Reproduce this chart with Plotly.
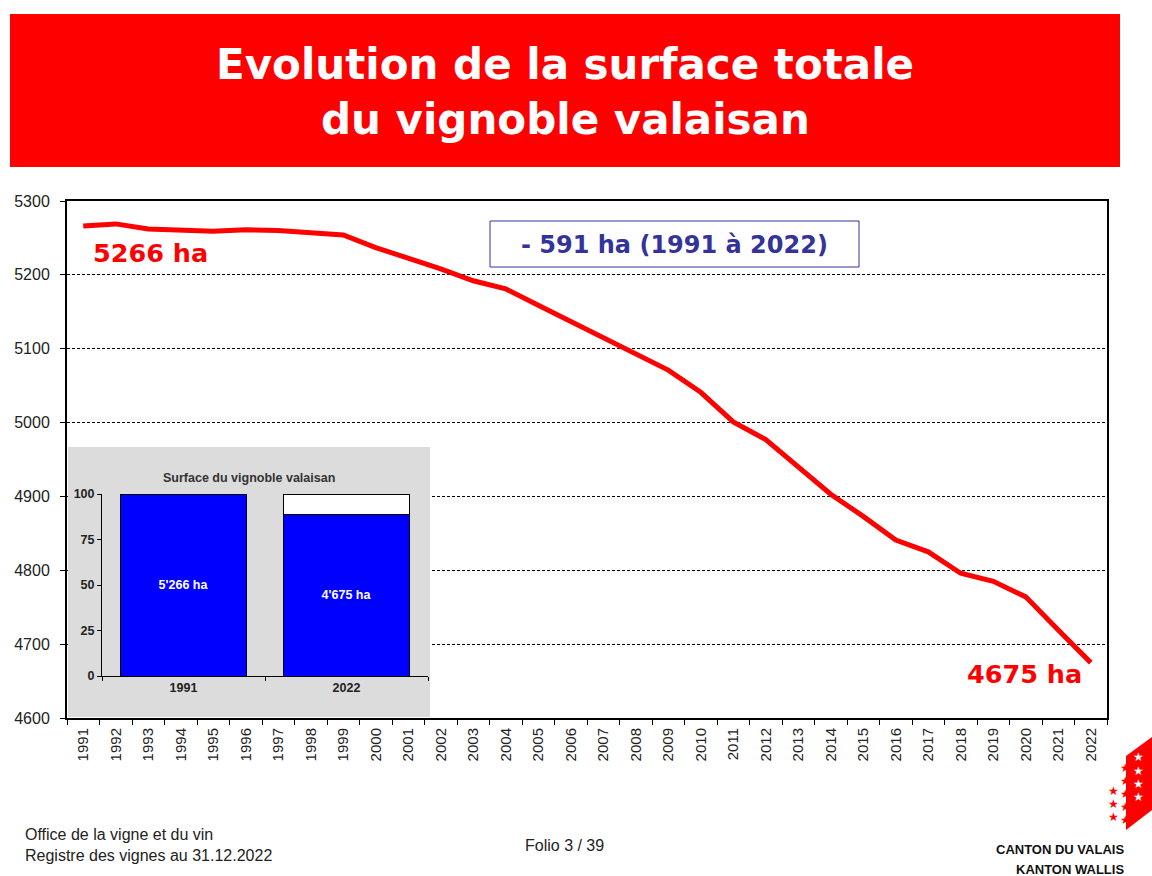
import plotly.graph_objects as go

# ---------------- data ----------------
years = ["1991", "1992", "1993", "1994", "1995", "1996", "1997", "1998", "1999", "2000",
         "2001", "2002", "2003", "2004", "2005", "2006", "2007", "2008", "2009", "2010",
         "2011", "2012", "2013", "2014", "2015", "2016", "2017", "2018", "2019", "2020",
         "2021", "2022"]
surface = [5266, 5269, 5262, 5261, 5259, 5261, 5260, 5257, 5254, 5237,
           5223, 5208, 5192, 5181, 5159, 5137, 5116, 5094, 5071, 5041,
           5001, 4977, 4940, 4903, 4873, 4841, 4825, 4796, 4785, 4764,
           4719, 4675]
y_ticks = [4600, 4700, 4800, 4900, 5000, 5100, 5200, 5300]

inset_years = ["1991", "2022"]
inset_surface = [5266, 4675]
inset_labels = ["5'266 ha", "4'675 ha"]
inset_ticks = [0, 25, 50, 75, 100]

title_lines = ["Evolution de la surface totale", "du vignoble valaisan"]

W, H = 1152, 876
def X(px): return px / W
def Y(py): return 1 - py / H

RED = "#ff0000"
NAVY = "#333399"

fig = go.Figure()

# main line
fig.add_trace(go.Scatter(x=years, y=surface, mode="lines",
                         line=dict(color=RED, width=5), xaxis="x", yaxis="y",
                         showlegend=False, hoverinfo="skip"))

# gray background panel of the inset (own subplot so it covers main gridlines)
fig.add_trace(go.Scatter(x=[0, 1, 1, 0, 0], y=[0, 0, 1, 1, 0], mode="lines",
                         fill="toself", fillcolor="#dcdcdc", line=dict(width=0),
                         xaxis="x2", yaxis="y2", showlegend=False, hoverinfo="skip"))

# inset bars
pct = [v / inset_surface[0] * 100 for v in inset_surface]
rest = [None if p >= 100 else 100 - p for p in pct]
fig.add_trace(go.Bar(x=inset_years, y=pct, marker=dict(color="#0000ff", line=dict(color="black", width=1)),
                     text=inset_labels, textposition="inside", insidetextanchor="middle",
                     textangle=0,
                     textfont=dict(color="white", size=12.5, family="Liberation Sans, Arial", weight="bold"),
                     xaxis="x3", yaxis="y3", showlegend=False, hoverinfo="skip"))
fig.add_trace(go.Bar(x=inset_years, y=rest, marker=dict(color="white", line=dict(color="black", width=1)),
                     xaxis="x3", yaxis="y3", showlegend=False, hoverinfo="skip"))

axis_font = dict(family="Liberation Sans, Arial", size=15, color="#222")
inset_font = dict(family="Liberation Sans, Arial", size=12.5, color="#222", weight="bold")

fig.update_layout(
    width=W, height=H, autosize=False,
    margin=dict(l=0, r=0, t=0, b=0, pad=0, autoexpand=False),
    paper_bgcolor="white", plot_bgcolor="rgba(0,0,0,0)",
    barmode="stack", bargap=0.233,
    xaxis=dict(domain=[X(67), X(1107)], type="category", tickson="boundaries",
               range=[-0.5, len(years) - 0.5],
               ticks="outside", ticklen=5, tickwidth=1, tickcolor="black",
               showline=True, linecolor="black", linewidth=2, mirror=True,
               tickangle=-90, tickfont=axis_font, showgrid=False, anchor="y",
               ticklabelstandoff=2, automargin=False, fixedrange=True),
    yaxis=dict(domain=[Y(718), Y(201)], range=[4600, 5300], tickvals=y_ticks,
               ticks="outside", ticklen=5, tickwidth=1, tickcolor="black",
               showline=True, linecolor="black", linewidth=2, mirror=True,
               tickfont=dict(family="Liberation Sans, Arial", size=16, color="#222"),
               showgrid=True, gridcolor="black", gridwidth=1, griddash="3px,2px",
               ticklabelstandoff=7, automargin=False,
               zeroline=False, anchor="x", fixedrange=True),
    xaxis2=dict(domain=[X(68), X(430)], range=[0, 1], visible=False, anchor="y2",
                automargin=False, fixedrange=True),
    yaxis2=dict(domain=[Y(717), Y(447)], range=[0, 1], visible=False, anchor="x2",
                automargin=False, fixedrange=True),
    xaxis3=dict(domain=[X(102), X(428)], type="category", tickson="boundaries",
                range=[-0.5, len(inset_years) - 0.5],
                ticks="outside", ticklen=4, tickcolor="black", showline=True,
                linecolor="black", linewidth=1, tickfont=inset_font,
                showgrid=False, anchor="y3", automargin=False, fixedrange=True),
    yaxis3=dict(domain=[Y(676), Y(494)], range=[0, 100], tickvals=inset_ticks,
                ticks="outside", ticklen=4, tickcolor="black", showline=True,
                linecolor="black", linewidth=1, tickfont=inset_font,
                showgrid=False, zeroline=False, anchor="x3", automargin=False, fixedrange=True),
)

shapes = [
    # red title band
    dict(type="rect", xref="paper", yref="paper", x0=X(10), x1=X(1120), y0=Y(167), y1=Y(14),
         fillcolor=RED, line=dict(width=0), layer="below"),
    # box around the difference label
    dict(type="rect", xref="paper", yref="paper", x0=X(490), x1=X(859), y0=Y(267), y1=Y(221),
         fillcolor="white", line=dict(color=NAVY, width=1), layer="above"),
    # logo flag
    dict(type="path", xref="paper", yref="paper",
         path=f"M {X(1126)},{Y(756)} L {X(1152)},{Y(737)} L {X(1152)},{Y(810)} L {X(1126)},{Y(830)} Z",
         fillcolor=RED, line=dict(width=0), layer="above"),
]
fig.update_layout(shapes=shapes)

ann = []
title_font = dict(family="DejaVu Sans, Verdana", size=42, color="white", weight="bold")
ann.append(dict(text=title_lines[0], x=X(565), y=Y(64), xref="paper", yref="paper",
                showarrow=False, font=title_font, xanchor="center", yanchor="middle"))
ann.append(dict(text=title_lines[1], x=X(565), y=Y(119), xref="paper", yref="paper",
                showarrow=False, font=title_font, xanchor="center", yanchor="middle"))

big = dict(family="DejaVu Sans, Verdana", size=25.5, color=RED, weight="bold")
ann.append(dict(text=f"{surface[0]} ha", x=X(91), y=Y(253), xref="paper", yref="paper",
                showarrow=False, font=big, xanchor="left", yanchor="middle"))
ann.append(dict(text=f"{surface[-1]} ha", x=X(1084), y=Y(674), xref="paper", yref="paper",
                showarrow=False, font=big, xanchor="right", yanchor="middle"))

diff = surface[0] - surface[-1]
ann.append(dict(text=f"- {diff} ha ({years[0]} à {years[-1]})", x=X(674), y=Y(245),
                xref="paper", yref="paper", showarrow=False,
                font=dict(family="DejaVu Sans, Verdana", size=24, color=NAVY, weight="bold"),
                xanchor="center", yanchor="middle"))

ann.append(dict(text="Surface du vignoble valaisan", x=X(249), y=Y(478), xref="paper", yref="paper",
                showarrow=False, font=dict(family="Liberation Sans, Arial", size=12.5, color="#333", weight="bold"),
                xanchor="center", yanchor="middle"))

foot = dict(family="Liberation Sans, Arial", size=16, color="#222")
ann.append(dict(text="Office de la vigne et du vin<br>Registre des vignes au 31.12.2022",
                x=X(23), y=Y(845), xref="paper", yref="paper", showarrow=False, font=foot,
                xanchor="left", yanchor="middle", align="left"))
ann.append(dict(text="Folio 3 / 39", x=X(564), y=Y(845), xref="paper", yref="paper",
                showarrow=False, font=foot, xanchor="center", yanchor="middle"))

logo_font = dict(family="Liberation Sans Narrow, Arial Narrow, Liberation Sans", size=13, color="#111", weight="bold")
ann.append(dict(text="CANTON DU VALAIS", x=X(1126), y=Y(849), xref="paper", yref="paper",
                showarrow=False, font=logo_font, xanchor="right", yanchor="middle"))
ann.append(dict(text="KANTON WALLIS", x=X(1126), y=Y(869), xref="paper", yref="paper",
                showarrow=False, font=logo_font, xanchor="right", yanchor="middle"))

# stars of the logo
star_white = [(1138, 757), (1138, 771), (1138, 784), (1138, 797)]
star_edge = [(1125, 768), (1125, 781), (1125, 794), (1125, 807), (1125, 820)]
star_red = [(1113, 791), (1113, 804), (1113, 817)]
for (sx, sy) in star_white:
    ann.append(dict(text="★", x=X(sx), y=Y(sy), xref="paper", yref="paper", showarrow=False,
                    font=dict(family="DejaVu Sans", size=12, color="white"),
                    xanchor="center", yanchor="middle"))
for (sx, sy) in star_edge + star_red:
    ann.append(dict(text="★", x=X(sx), y=Y(sy), xref="paper", yref="paper", showarrow=False,
                    font=dict(family="DejaVu Sans", size=12, color=RED),
                    xanchor="center", yanchor="middle"))

fig.update_layout(annotations=ann, hovermode=False)

fig.write_html("out.html", config=dict(displayModeBar=False),
               post_script="document.documentElement.style.margin='0';document.body.style.margin='0';document.body.style.padding='0';")
